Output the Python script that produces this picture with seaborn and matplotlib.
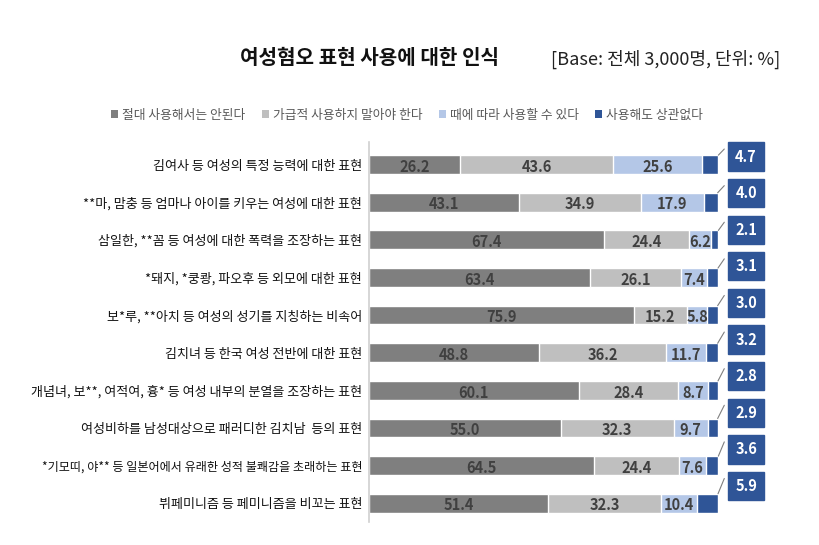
import numpy as np
import pandas as pd
import matplotlib
matplotlib.use('Agg')
import matplotlib.pyplot as plt
import seaborn as sns
from matplotlib.patches import Patch, Rectangle

# data (%)
categories = [
    '김여사 등 여성의 특정 능력에 대한 표현',
    '**마, 맘충 등 엄마나 아이를 키우는 여성에 대한 표현',
    '삼일한, **꼼 등 여성에 대한 폭력을 조장하는 표현',
    '*돼지, *쿵쾅, 파오후 등 외모에 대한 표현',
    '보*루, **아치 등 여성의 성기를 지칭하는 비속어',
    '김치녀 등 한국 여성 전반에 대한 표현',
    '개념녀, 보**, 여적여, 흉* 등 여성 내부의 분열을 조장하는 표현',
    '여성비하를 남성대상으로 패러디한 김치남  등의 표현',
    '*기모띠, 야** 등 일본어에서 유래한 성적 불쾌감을 초래하는 표현',
    '뷔페미니즘 등 페미니즘을 비꼬는 표현',
]
never = [26.2, 43.1, 67.4, 63.4, 75.9, 48.8, 60.1, 55.0, 64.5, 51.4]
avoid = [43.6, 34.9, 24.4, 26.1, 15.2, 36.2, 28.4, 32.3, 24.4, 32.3]
sometimes = [25.6, 17.9, 6.2, 7.4, 5.8, 11.7, 8.7, 9.7, 7.6, 10.4]
fine = [4.7, 4.0, 2.1, 3.1, 3.0, 3.2, 2.8, 2.9, 3.6, 5.9]
series_names = ['절대 사용해서는 안된다', '가급적 사용하지 말아야 한다',
                '때에 따라 사용할 수 있다', '사용해도 상관없다']
colors = ['#7f7f7f', '#bfbfbf', '#b4c7e7', '#2f5597']

sns.set_theme(style='white')
plt.rcParams['font.family'] = ['Noto Sans CJK KR', 'DejaVu Sans']

df = pd.DataFrame({'cat': categories, 'never': never, 'avoid': avoid,
                   'sometimes': sometimes, 'fine': fine})
parts = ['never', 'avoid', 'sometimes', 'fine']
cum = df[parts].cumsum(axis=1)

fig = plt.figure(figsize=(8.2, 5.45), dpi=100)
ax = fig.add_axes([369 / 820, 1 - 522 / 545, 349 / 820, 380 / 545])

# stacked bars: draw cumulative totals from the longest down
for k in range(3, -1, -1):
    sns.barplot(x=cum[parts[k]], y=df['cat'], color=colors[k], orient='h',
                width=0.5, saturation=1, ax=ax)

# values inside the first three segments
for i in range(len(df)):
    left = 0
    for k in range(3):
        v = df[parts[k]][i]
        ax.text(left + v / 2, i + 0.06, f'{v:.1f}', ha='center', va='center',
                fontsize=10.5, fontweight='bold', color='#404040')
        left += v

# callout boxes for the last series
for i in range(len(df)):
    total = cum['fine'][i]
    by = i * 0.973 - 0.213
    ax.plot([total, 101.8], [i - 0.25, by - 0.2], color='#7f7f7f', lw=0.8,
            clip_on=False)
    ax.add_patch(Rectangle((102.8, by - 0.375), 10.5, 0.75, color=colors[3],
                           clip_on=False))
    ax.text(102.8 + 5.25, by, f'{fine[i]:.1f}', ha='center', va='center',
            fontsize=10.5, fontweight='bold', color='white')

ax.set_xlim(0, 100)
ax.set_ylim(9.5, -0.6)
ax.set_xlabel('')
ax.set_ylabel('')
ax.set_xticks([])
ax.tick_params(axis='y', length=0, pad=5, labelsize=9.4, labelcolor='#111111')
ax.get_yticklabels()[8].set_fontsize(8.7)
for s in ['top', 'right', 'bottom']:
    ax.spines[s].set_visible(False)
ax.spines['left'].set_color('#d0d0d0')
ax.spines['left'].set_linewidth(1.2)

fig.text(240 / 820, 1 - 57 / 545, '여성혐오 표현 사용에 대한 인식', ha='left',
         va='center', fontsize=14.5, fontweight='bold', color='#111111')
fig.text(551 / 820, 1 - 59 / 545, '[Base: 전체 3,000명, 단위: %]', ha='left',
         va='center', fontsize=13, color='#222222')

handles = [Patch(facecolor=c, edgecolor='none') for c in colors]
fig.legend(handles, series_names, loc='center', bbox_to_anchor=(407 / 820, 1 - 115 / 545),
           ncol=4, frameon=False, fontsize=9.2, handlelength=0.55, handleheight=0.55,
           handletextpad=0.3, columnspacing=1.3, labelcolor='#595959')

fig.savefig('out.png', dpi=100, facecolor='white')
